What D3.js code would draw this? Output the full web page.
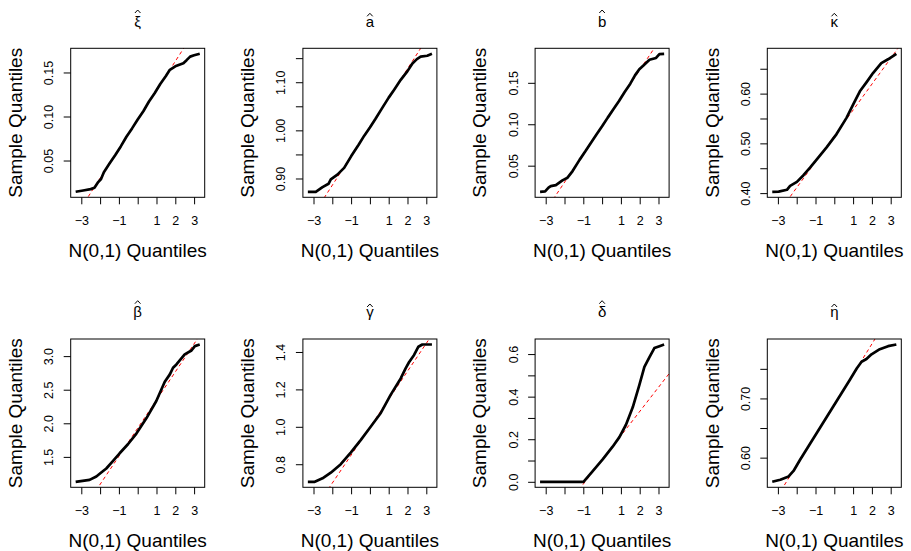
<!DOCTYPE html>
<html lang="en">
<head>
<meta charset="UTF-8">
<script src="https://d3js.org/d3.v7.min.js"></script>
<style>
  body { margin: 0; background: #fff; }
  text { font-family: "Liberation Sans", Arial, sans-serif; fill: #000; }
  .box { fill: none; stroke: #000; stroke-width: 1px; }
  .qq { fill: none; stroke: #000; stroke-width: 2.7px; stroke-linejoin: round; }
  .ref { fill: none; stroke: #ff0000; stroke-width: 1px; stroke-dasharray: 3.5,3; }
  .hat { fill: none; stroke: #000; stroke-width: 1px; }
</style>
</head>
<body>
<script>
// panel titles (each drawn with a hat)
const titles = ["ξ", "a", "b", "κ", "β", "γ", "δ", "η"];

// theoretical N(0,1) quantiles and sample quantiles
const xiTheo   = [-3.3, -2.9, -2.5, -2.3, -2.1, -1.95, -1.8, -1.5, -1.2, -0.9, -0.6, -0.3, 0, 0.3, 0.6, 0.9, 1.2, 1.5, 1.71, 2.0, 2.43, 2.6, 2.79, 3.0, 3.3];
const xiSample = [0.0145, 0.016, 0.0175, 0.019, 0.0255, 0.029, 0.0368, 0.0465, 0.056, 0.066, 0.077, 0.0865, 0.0965, 0.106, 0.117, 0.1265, 0.137, 0.146, 0.153, 0.157, 0.1606, 0.164, 0.168, 0.1695, 0.1712];

const aTheo   = [-3.3, -2.88, -2.52, -2.2, -2.08, -1.73, -1.37, -1.0, -0.6, -0.3, 0, 0.3, 0.6, 1.0, 1.3, 1.64, 2.0, 2.26, 2.5, 2.7, 3.05, 3.3];
const aSample = [0.8724, 0.8724, 0.882, 0.889, 0.898, 0.908, 0.922, 0.946, 0.970, 0.989, 1.006, 1.024, 1.043, 1.068, 1.085, 1.105, 1.123, 1.139, 1.148, 1.153, 1.155, 1.159];

const bTheo   = [-3.3, -3.03, -2.85, -2.73, -2.46, -2.11, -1.84, -1.57, -1.2, -0.9, -0.6, -0.3, 0, 0.3, 0.6, 0.9, 1.2, 1.5, 1.75, 1.98, 2.2, 2.52, 2.87, 3.05, 3.3];
const bSample = [0.0185, 0.019, 0.0235, 0.0254, 0.0266, 0.0323, 0.0355, 0.0435, 0.057, 0.067, 0.0775, 0.0875, 0.0975, 0.108, 0.118, 0.128, 0.139, 0.149, 0.159, 0.1665, 0.171, 0.1778, 0.18, 0.1847, 0.185];

const kappaTheo   = [-3.3, -2.96, -2.52, -2.35, -1.99, -1.64, -1.29, -0.93, -0.41, 0.12, 0.65, 1.0, 1.36, 1.71, 2.06, 2.5, 2.86, 3.3];
const kappaSample = [0.4027, 0.403, 0.4067, 0.4147, 0.4227, 0.436, 0.4513, 0.468, 0.492, 0.5187, 0.5513, 0.578, 0.6047, 0.6227, 0.6413, 0.6613, 0.669, 0.68];

const betaTheo   = [-3.3, -2.56, -2.2, -1.94, -1.67, -1.31, -0.96, -0.52, -0.07, 0.46, 0.99, 1.44, 1.71, 1.88, 2.06, 2.5, 2.86, 3.04, 3.3];
const betaSample = [1.129, 1.158, 1.208, 1.267, 1.327, 1.44, 1.554, 1.688, 1.847, 2.074, 2.332, 2.619, 2.728, 2.827, 2.876, 3.025, 3.084, 3.149, 3.173];

const gammaTheo   = [-3.3, -2.93, -2.52, -2.08, -1.55, -1.02, -0.49, 0.04, 0.58, 1.11, 1.64, 1.9, 2.08, 2.35, 2.58, 2.79, 3.3];
const gammaSample = [0.706, 0.706, 0.7248, 0.7549, 0.80, 0.862, 0.929, 1.0, 1.074, 1.172, 1.2584, 1.312, 1.345, 1.384, 1.428, 1.44, 1.44];

const deltaTheo   = [-3.3, -0.99, -0.51, 0.03, 0.56, 0.92, 1.27, 1.63, 1.98, 2.25, 2.52, 2.78, 3.05, 3.3];
const deltaSample = [0, 0, 0.049, 0.105, 0.165, 0.21, 0.268, 0.35, 0.454, 0.54, 0.586, 0.628, 0.637, 0.645];

const etaTheo   = [-3.3, -2.87, -2.43, -2.17, -1.82, -1.29, -0.76, -0.23, 0.3, 0.83, 1.2, 1.45, 1.71, 1.98, 2.42, 2.86, 3.3];
const etaSample = [0.5592, 0.5626, 0.5682, 0.5775, 0.5964, 0.6236, 0.6505, 0.6775, 0.7045, 0.7315, 0.751, 0.762, 0.7665, 0.7745, 0.7832, 0.7883, 0.7911];

// qqline: [intercept, slope]
const refLines = [[0.0963, 0.0332], [1.007, 0.0605], [0.0977, 0.0339], [0.515, 0.052],
                  [1.928, 0.4185], [0.998, 0.1494], [0.1028, 0.1137], [0.6896, 0.0512]];

// axis ticks and which of them carry labels
const xTicks  = [-3, -2, -1, 0, 1, 2, 3];
const xLabels = [-3, -1, 1, 2, 3];
const yTicks = [
  [0.05, 0.10, 0.15],
  [0.90, 0.95, 1.00, 1.05, 1.10, 1.15],
  [0.05, 0.10, 0.15],
  [0.40, 0.45, 0.50, 0.55, 0.60, 0.65],
  [1.5, 2.0, 2.5, 3.0],
  [0.8, 1.0, 1.2, 1.4],
  [0.0, 0.1, 0.2, 0.3, 0.4, 0.5, 0.6],
  [0.60, 0.65, 0.70, 0.75]
];
const yLabels = [
  [0.05, 0.10, 0.15],
  [0.90, 1.00, 1.10],
  [0.05, 0.10, 0.15],
  [0.40, 0.50, 0.60],
  [1.5, 2.0, 2.5, 3.0],
  [0.8, 1.0, 1.2, 1.4],
  [0.0, 0.2, 0.4, 0.6],
  [0.60, 0.70]
];
const yFormats = [".2f", ".2f", ".2f", ".2f", ".1f", ".1f", ".1f", ".2f"];

const theo    = [xiTheo, aTheo, bTheo, kappaTheo, betaTheo, gammaTheo, deltaTheo, etaTheo];
const samples = [xiSample, aSample, bSample, kappaSample, betaSample, gammaSample, deltaSample, etaSample];
const tall = [true, false, true, false, true, false, true, false];

const W = 911, H = 551;
const svg = d3.select("body").append("svg").attr("width", W).attr("height", H);

// layout of the 2 x 4 grid (plot boxes)
const boxW = 134;
const boxLeft = c => 70.7 + 232.2 * c;
const boxTop = [48.3, 339];
const boxH = [149, 148.3];

// R style range: data extent padded by 4%
function pad(ext) {
  const d = (ext[1] - ext[0]) * 0.04;
  return [ext[0] - d, ext[1] + d];
}

titles.forEach((t, i) => {
  const row = Math.floor(i / 4), col = i % 4;
  const left = boxLeft(col), top = boxTop[row], h = boxH[row];
  const g = svg.append("g").attr("transform", `translate(${left},${top})`);

  const x = d3.scaleLinear().domain(pad(d3.extent(theo[i]))).range([0, boxW]);
  const y = d3.scaleLinear().domain(pad(d3.extent(samples[i]))).range([h, 0]);

  const clipId = "clip" + i;
  g.append("clipPath").attr("id", clipId)
    .append("rect").attr("width", boxW).attr("height", h);

  // reference line across the full x range, clipped to the box
  const [b0, b1] = refLines[i];
  g.append("path")
    .attr("class", "ref")
    .attr("clip-path", `url(#${clipId})`)
    .attr("d", d3.line().x(d => x(d)).y(d => y(b0 + b1 * d))(x.domain()));

  // sample quantile curve
  const pts = theo[i].map((q, k) => [q, samples[i][k]]);
  g.append("path")
    .attr("class", "qq")
    .attr("clip-path", `url(#${clipId})`)
    .attr("d", d3.line().x(d => x(d[0])).y(d => y(d[1]))(pts));

  g.append("rect").attr("class", "box").attr("width", boxW).attr("height", h);

  // x axis
  const xAxis = d3.axisBottom(x).tickValues(xTicks).tickSizeOuter(0).tickSize(7)
    .tickFormat(d => xLabels.includes(d) ? d3.format("")(d) : "");
  const gx = g.append("g").attr("transform", `translate(0,${h})`).call(xAxis);
  gx.select(".domain").remove();
  gx.selectAll("line").attr("stroke", "#000");
  gx.selectAll("text").attr("y", 19).attr("dy", "0.71em")
    .style("font-size", "12.5px");
  gx.attr("font-family", null).attr("font-size", null);

  // y axis
  const fy = d3.format(yFormats[i]);
  const yAxis = d3.axisLeft(y).tickValues(yTicks[i]).tickSizeOuter(0).tickSize(7)
    .tickFormat(d => yLabels[i].some(v => Math.abs(v - d) < 1e-9) ? fy(d) : "");
  const gy = g.append("g").call(yAxis);
  gy.select(".domain").remove();
  gy.selectAll("line").attr("stroke", "#000");
  gy.selectAll("text")
    .attr("x", null).attr("dy", null)
    .attr("transform", "translate(-17.5,0) rotate(-90)")
    .attr("text-anchor", "middle")
    .style("font-size", "12.5px");
  gy.attr("font-family", null).attr("font-size", null);

  // axis titles
  g.append("text")
    .attr("x", boxW / 2).attr("y", h + 59.4)
    .attr("text-anchor", "middle").style("font-size", "19px")
    .text("N(0,1) Quantiles");
  g.append("text")
    .attr("transform", `translate(-48.8,${h / 2}) rotate(-90)`)
    .attr("text-anchor", "middle").style("font-size", "19px")
    .text("Sample Quantiles");

  // main title: letter with a hat drawn as a small chevron, like plotmath
  g.append("text")
    .attr("x", boxW / 2).attr("y", -21.8)
    .attr("text-anchor", "middle").style("font-size", "15px")
    .text(t);
  const peak = tall[i] ? -38.3 : -35;
  g.append("path")
    .attr("class", "hat")
    .attr("d", `M${boxW / 2 - 2.8},${peak + 3} L${boxW / 2},${peak} L${boxW / 2 + 2.8},${peak + 3}`);
});
</script>
</body>
</html>
